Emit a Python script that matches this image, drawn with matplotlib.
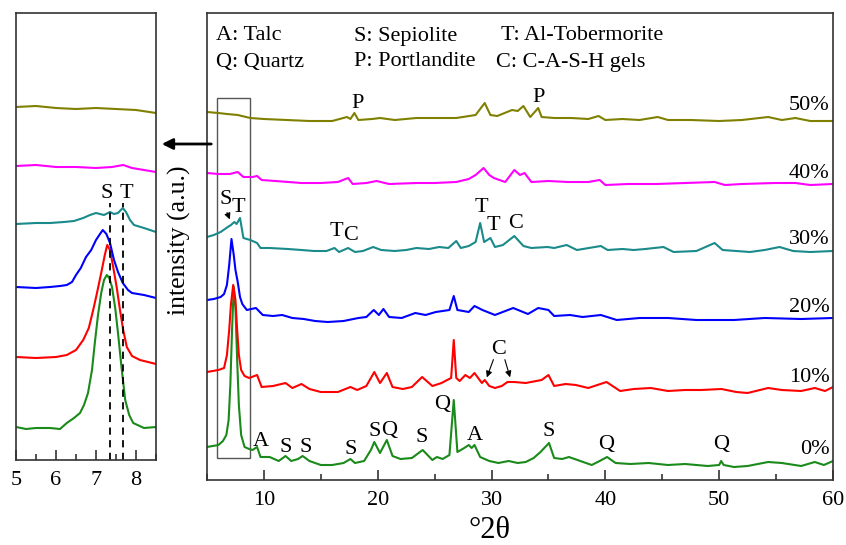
import matplotlib
matplotlib.use("Agg")
import matplotlib.pyplot as plt
from matplotlib.patches import Rectangle, FancyArrowPatch
from matplotlib.ticker import MultipleLocator

plt.rcParams['font.family'] = ['Liberation Serif', 'DejaVu Serif']

# ---------------- data (main panel, 2theta vs intensity a.u.) ----------------
labels = ["0%", "10%", "20%", "30%", "40%", "50%"]
colors = ["#1a8a1a", "#ff0000", "#0000ff", "#1a8a8a", "#ff00ff", "#808000"]

x_0 = [5.0, 5.5, 6.0, 6.4, 6.7, 6.9, 7.05, 7.2, 7.35, 7.5, 7.65, 7.8, 8.0, 8.3, 8.7, 9.0, 9.4, 9.7,
       10.5, 11.3, 11.9, 12.4, 13.0, 13.4, 14.0, 15.0, 16.0, 17.0, 17.6, 18.0, 18.8, 19.4,
       19.7, 20.2, 20.8, 21.3, 22.0, 23.0, 23.95, 24.8, 25.2, 25.7, 26.3, 26.68, 27.0, 27.6,
       28.0, 28.25, 28.5, 29.0, 29.8, 30.6, 31.5, 32.3, 33.0, 33.7, 34.3, 35.05, 35.5, 36.2,
       36.8, 37.8, 38.8, 39.5, 40.15, 40.9, 42.2, 43.8, 45.5, 47.0, 49.0, 50.0, 50.17, 50.4,
       51.3, 52.5, 54.3, 55.5, 57.2, 58.4, 59.2, 60.0]
y_0 = [33, 34, 35, 39, 45, 60, 95, 150, 193, 172, 120, 75, 45, 33, 31, 30, 33, 23,
       23, 19, 24, 19, 21, 24, 19, 15, 15, 17, 21, 17, 19, 30,
       38, 27, 40, 24, 21, 22, 30, 20, 23, 21, 25, 80, 28, 32,
       35, 32, 35, 23, 19, 17, 19, 17, 18, 22, 28, 37, 22, 21,
       23, 19, 15, 19, 23, 17, 16, 17, 15, 16, 14, 15, 19, 15,
       13, 14, 18, 17, 14, 18, 15, 19]

x_10 = [5.0, 5.5, 6.0, 6.5, 6.75, 6.95, 7.1, 7.3, 7.5, 7.65, 7.8, 8.0, 8.3, 8.7, 9.4, 9.8, 10.8, 11.9, 12.5,
        13.3, 14.0, 15.0, 16.5, 17.6, 18.2, 19.0, 19.7, 20.2, 20.8, 21.3, 22.2, 23.0, 23.9,
        24.8, 25.6, 26.1, 26.45, 26.68, 26.9, 27.2, 27.7, 28.1, 28.5, 29.15, 29.4, 29.8, 30.3,
        30.9, 31.4, 32.0, 33.0, 34.4, 35.0, 35.5, 36.5, 37.4, 38.5, 40.1, 41.3, 42.5, 44.0,
        45.5, 47.0, 48.4, 50.2, 51.5, 52.5, 54.3, 55.5, 57.2, 58.4, 59.3, 60.0]
y_10 = [108, 109, 110, 112, 125, 150, 175, 195, 180, 150, 125, 110, 104, 102, 105, 93, 94, 97, 92,
        96, 91, 88, 88, 93, 90, 94, 108, 97, 107, 93, 91, 93, 103,
        94, 97, 100, 102, 140, 102, 99, 105, 102, 107, 97, 100, 94, 92,
        94, 98, 98, 97, 100, 105, 94, 96, 95, 92, 98, 89, 91, 92,
        89, 90, 90, 91, 88, 87, 92, 90, 89, 92, 89, 93]

x_20 = [5.0, 5.6, 6.2, 6.5, 6.75, 6.95, 7.15, 7.35, 7.5, 7.7, 7.9, 8.1, 8.5, 9.3, 9.9, 10.8, 11.6, 12.5,
        13.5, 14.5, 15.6, 17.0, 18.3, 19.0, 19.65, 20.1, 20.5, 21.0, 22.1, 23.3, 24.2, 25.1,
        26.3, 26.68, 27.0, 28.0, 28.5, 29.2, 30.3, 31.9, 33.2, 34.1, 35.0, 35.5, 36.9, 38.0,
        39.6, 41.0, 43.0, 45.5, 48.0, 51.3, 54.0, 57.2, 60.0]
y_20 = [180, 181, 183, 186, 195, 215, 241, 225, 210, 198, 183, 176, 170, 172, 165, 164, 165, 162,
        161, 159, 158, 159, 162, 163, 170, 165, 171, 163, 162, 167, 165, 168,
        170, 184, 170, 168, 174, 170, 165, 172, 166, 172, 170, 164, 165, 163,
        165, 160, 162, 162, 160, 160, 162, 161, 162]

x_30 = [5.0, 5.6, 6.2, 6.7, 7.1, 7.4, 7.6, 7.9, 8.2, 8.8, 9.4, 9.7, 10.5, 12.1, 13.3, 14.4,
        15.5, 16.2, 16.6, 17.4, 18.0, 18.7, 19.6, 20.3, 21.5, 22.5, 23.4, 24.5, 25.4, 26.2,
        26.9, 27.3, 28.0, 28.6, 29.0, 29.35, 29.9, 30.3, 31.0, 32.0, 32.8, 33.5, 34.9, 35.5,
        36.6, 37.5, 39.6, 40.2, 41.5, 42.5, 43.5, 45.1, 46.0, 48.0, 49.6, 50.3, 52.7, 54.0,
        55.3, 56.5, 58.0, 60.0]
y_30 = [243, 245, 248, 252, 255, 258, 256, 262, 242, 240, 237, 232, 232, 231, 230, 229,
        229, 232, 228, 232, 228, 229, 233, 230, 229, 230, 232, 231, 233, 232,
        239, 232, 234, 238, 257, 238, 242, 233, 235, 244, 234, 232, 233, 232,
        235, 230, 234, 230, 231, 230, 231, 233, 228, 229, 237, 230, 228, 230,
        233, 229, 228, 229]

x_40 = [5.0, 6.0, 7.0, 7.7, 8.2, 9.0, 9.4, 9.8, 11.0, 13.3, 15.0, 16.5, 17.4, 17.8, 19.0,
        19.9, 21.0, 23.4, 25.0, 26.9, 28.0, 28.6, 29.3, 29.8, 30.2, 31.2, 32.0, 32.5, 32.9,
        33.5, 35.0, 36.7, 38.5, 39.5, 40.0, 42.0, 44.5, 47.0, 49.6, 50.5, 52.0, 54.9, 56.7,
        58.0, 60.0]
y_40 = [307, 306, 306, 308, 303, 303, 304, 300, 299, 297, 297, 298, 302, 296, 297,
        299, 296, 297, 297, 298, 301, 305, 312, 305, 302, 298, 310, 305, 307,
        298, 299, 298, 298, 300, 295, 296, 296, 297, 298, 295, 296, 297, 297,
        295, 296]

x_50 = [5.0, 6.0, 6.75, 7.7, 8.8, 10.0, 12.0, 14.0, 16.0, 17.3, 17.6, 17.95, 18.3, 19.5,
        20.2, 21.5, 23.4, 25.0, 26.9, 28.6, 29.4, 29.9, 30.5, 31.8, 32.3, 32.8, 33.4, 34.1,
        34.4, 35.5, 37.0, 38.5, 39.4, 40.0, 41.5, 43.0, 44.6, 45.5, 47.5, 50.0, 52.0, 54.3,
        55.5, 56.7, 58.0, 60.0]
y_50 = [368, 367, 366, 365, 362, 361, 360, 359, 359, 363, 361, 367, 360, 361,
        362, 360, 362, 362, 362, 365, 377, 365, 364, 370, 369, 374, 363, 372,
        363, 362, 362, 361, 364, 360, 361, 360, 363, 360, 360, 359, 360, 363,
        360, 362, 359, 359]

# ---------------- data (inset, 5-8.5 deg) ----------------
xi_0 = [5.0, 5.25, 5.5, 5.85, 6.1, 6.27, 6.45, 6.6, 6.7, 6.8, 6.9, 6.97, 7.05, 7.13, 7.2, 7.27,
        7.33, 7.4, 7.48, 7.55, 7.64, 7.73, 7.83, 7.93, 8.2, 8.5]
yi_0 = [33, 31, 32, 32, 31, 37, 42, 47, 55, 67, 90, 117, 145, 167, 180, 185,
        182, 173, 152, 127, 92, 60, 45, 37, 32, 33]
xi_10 = [5.0, 5.5, 6.0, 6.27, 6.5, 6.68, 6.82, 6.93, 7.03, 7.13, 7.22, 7.28, 7.35, 7.43, 7.52,
         7.6, 7.68, 7.77, 7.9, 8.1, 8.5]
yi_10 = [103, 102, 103, 105, 110, 120, 132, 150, 168, 187, 205, 215, 210, 193, 172,
         150, 130, 113, 104, 100, 96]
xi_20 = [5.0, 5.5, 5.85, 6.1, 6.27, 6.4, 6.5, 6.62, 6.75, 6.88, 7.0, 7.1, 7.17, 7.26, 7.35, 7.45,
         7.55, 7.67, 7.8, 7.9, 8.2, 8.5]
yi_20 = [173, 172, 173, 174, 175, 178, 185, 192, 203, 210, 220, 226, 230, 226, 217, 200,
         188, 177, 170, 167, 165, 162]
xi_30 = [5.0, 5.5, 5.85, 6.2, 6.45, 6.68, 6.85, 7.0, 7.1, 7.2, 7.35, 7.45, 7.55, 7.67, 7.75, 7.85,
         7.95, 8.2, 8.5]
yi_30 = [236, 237, 237, 238, 239, 242, 245, 247, 246, 245, 248, 246, 247, 252, 248, 240,
         235, 232, 228]
xi_40 = [5.0, 5.5, 6.0, 6.5, 7.0, 7.4, 7.68, 7.9, 8.2, 8.5]
yi_40 = [294, 295, 293, 293, 292, 293, 295, 292, 290, 288]
xi_50 = [5.0, 5.5, 6.0, 6.5, 7.0, 7.5, 8.0, 8.5]
yi_50 = [353, 354, 352, 351, 352, 351, 350, 347]

main_x = [x_0, x_10, x_20, x_30, x_40, x_50]
main_y = [y_0, y_10, y_20, y_30, y_40, y_50]
ins_x = [xi_0, xi_10, xi_20, xi_30, xi_40, xi_50]
ins_y = [yi_0, yi_10, yi_20, yi_30, yi_40, yi_50]

# label positions for each curve (percent labels)
pct_y = [30, 103, 173, 240, 307, 375]

# ---------------- figure ----------------
W, H = 846, 545
fig = plt.figure(figsize=(W / 100, H / 100), dpi=100)

def box(l, t, r, b):
    return [l / W, 1 - b / H, (r - l) / W, (b - t) / H]

ax_in = fig.add_axes(box(16, 13, 156, 460))
ax = fig.add_axes(box(207, 13, 833, 480))

lw = 1.5
frame_col = "#333333"
FS = 16

for xs, ys, c in zip(main_x, main_y, colors):
    ax.plot(xs, ys, color=c, lw=lw)
for xs, ys, c in zip(ins_x, ins_y, colors):
    ax_in.plot(xs, ys, color=c, lw=lw)

ax.set_xlim(5, 60)
ax.set_ylim(0, 467)
ax_in.set_xlim(5, 8.5)
ax_in.set_ylim(0, 447)

for a in (ax, ax_in):
    a.set_yticks([])
    for s in a.spines.values():
        s.set_color(frame_col)
        s.set_linewidth(1.2)
    a.tick_params(axis='x', direction='in', length=7, width=1.2, color=frame_col,
                  labelsize=FS, pad=8)
    a.tick_params(axis='x', which='minor', direction='in', length=4, width=1.2, color=frame_col)

ax.xaxis.set_major_locator(MultipleLocator(10))
ax.xaxis.set_minor_locator(MultipleLocator(5))
ax.set_xticks([10, 20, 30, 40, 50, 60])
ax_in.xaxis.set_major_locator(MultipleLocator(1))
ax_in.xaxis.set_minor_locator(MultipleLocator(0.5))

fig.text(490 / W, 1 - 531 / H, "°2θ", fontsize=22, ha='center', va='center')

# legend-like text
ax.text(5.8, 444, "A: Talc", fontsize=FS, va='center', ha='left')
ax.text(5.8, 418, "Q: Quartz", fontsize=FS, va='center', ha='left')
ax.text(17.9, 444, "S: Sepiolite", fontsize=FS, va='center', ha='left')
ax.text(17.9, 418, "P: Portlandite", fontsize=FS, va='center', ha='left')
ax.text(30.8, 444, "T: Al-Tobermorite", fontsize=FS, va='center', ha='left')
ax.text(30.4, 418, "C: C-A-S-H gels", fontsize=FS, va='center', ha='left')

for lab, yy in zip(labels, pct_y):
    ax.text(59.7, yy, lab, fontsize=FS, ha='right', va='center')

# peak labels
peak_labels = [
    ("P", 18.2, 377), ("P", 34.15, 382),
    ("S", 6.6, 280), ("T", 7.8, 272), ("T", 16.4, 248), ("C", 17.65, 245),
    ("T", 29.1, 272), ("T", 30.15, 255), ("C", 32.15, 257),
    ("C", 30.66, 130),
    ("A", 9.75, 38), ("S", 11.94, 33), ("S", 13.7, 33), ("S", 17.65, 30),
    ("S", 19.7, 48), ("Q", 21.0, 50), ("S", 23.9, 42), ("Q", 25.7, 75),
    ("A", 28.55, 45), ("S", 35.0, 48), ("Q", 40.1, 35), ("Q", 50.17, 35),
]
for t, xx, yy in peak_labels:
    ax.text(xx, yy, t, fontsize=FS, ha='center', va='center')

arrow_kw = dict(arrowstyle='-|>', color='black', lw=0.8, mutation_scale=9)
ax.annotate("", xy=(7.1, 258), xytext=(6.67, 270), arrowprops=arrow_kw)
ax.annotate("", xy=(29.5, 100), xytext=(30.25, 123), arrowprops=arrow_kw)
ax.annotate("", xy=(31.7, 100), xytext=(31.1, 123), arrowprops=arrow_kw)

# zoom rectangle
ax.add_patch(Rectangle((5.85, 22), 8.8 - 5.85, 381.7 - 22, fill=False,
                       edgecolor='#555555', lw=1.0))

# inset dashed lines and labels
ax_in.plot([7.35, 7.35], [0, 257], ls=(0, (4, 3)), color='black', lw=1.3)
ax_in.plot([7.68, 7.68], [0, 257], ls=(0, (4, 3)), color='black', lw=1.3)
ax_in.text(7.27, 267, "S", fontsize=FS, ha='center', va='center')
ax_in.text(7.75, 267, "T", fontsize=FS, ha='center', va='center')

# y label between panels
fig.text(179 / W, 1 - 240 / H, "intensity (a.u.)", rotation=90, fontsize=18.5,
         ha='center', va='center')

# arrow between panels
fig.patches.append(FancyArrowPatch((214 / W, 1 - 144 / H), (159 / W, 1 - 144 / H),
                                   transform=fig.transFigure, arrowstyle='-|>',
                                   mutation_scale=16, lw=2, color='black'))

fig.savefig("out.png", dpi=100)
